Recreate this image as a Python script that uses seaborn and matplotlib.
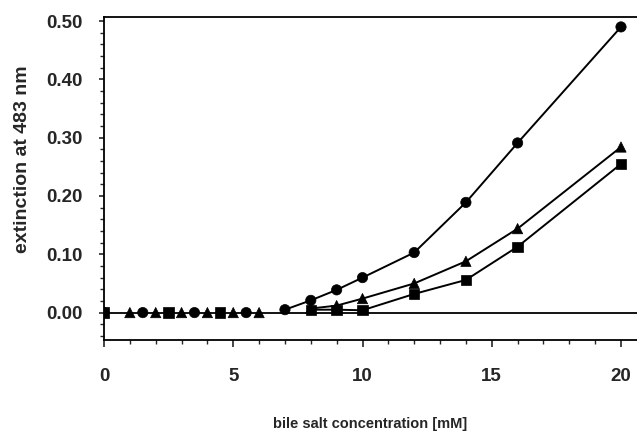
import matplotlib
matplotlib.use("Agg")
import matplotlib.pyplot as plt
import seaborn as sns
import pandas as pd
import numpy as np
from matplotlib.ticker import MultipleLocator, FormatStrFormatter

# ---- data ----
circle_x = [0, 1.5, 3.5, 5.5, 7, 8, 9, 10, 12, 14, 16, 20]
circle_y = [0, 0, 0, 0, 0.005, 0.021, 0.039, 0.060, 0.103, 0.189, 0.291, 0.490]

triangle_x = [0, 1, 2, 3, 4, 5, 6, 8, 9, 10, 12, 14, 16, 20]
triangle_y = [0, 0, 0, 0, 0, 0, 0, 0.007, 0.012, 0.024, 0.050, 0.088, 0.144, 0.284]

square_x = [0, 2.5, 4.5, 8, 9, 10, 12, 14, 16, 20]
square_y = [0, 0, 0, 0.005, 0.005, 0.004, 0.032, 0.056, 0.113, 0.255]

x_ticks = [0, 5, 10, 15, 20]
y_ticks = [0.0, 0.1, 0.2, 0.3, 0.4, 0.5]

frames = []
for name, xs, ys in [("circle", circle_x, circle_y),
                     ("triangle", triangle_x, triangle_y),
                     ("square", square_x, square_y)]:
    frames.append(pd.DataFrame({"x": xs, "y": ys, "series": name}))
df = pd.concat(frames, ignore_index=True)
rising = df[df["x"] >= 7]

sns.set_theme(style="white")
plt.rcParams["font.family"] = ["Liberation Sans", "DejaVu Sans"]
plt.rcParams["font.weight"] = "bold"

fig = plt.figure(figsize=(6.37, 4.37), dpi=100)
ax = fig.add_axes([104 / 637, 1 - 340 / 437, 1 - 104 / 637, (340 - 17) / 437])

# zero line
ax.axhline(0, color="black", lw=1.3, zorder=1)

sns.lineplot(data=rising, x="x", y="y", hue="series", units="series",
             estimator=None, palette={"circle": "black", "triangle": "black", "square": "black"},
             lw=1.4, legend=False, ax=ax, sort=True, zorder=2)

sns.scatterplot(data=df, x="x", y="y", style="series",
                markers={"circle": "o", "triangle": "^", "square": "s"},
                color="black", s=55, edgecolor="black", linewidth=0.5,
                legend=False, ax=ax, zorder=3)

x_max = 20 * (637 - 104) / (621 - 104)
ax.set_xlim(0, x_max)
ax.set_ylim(-0.047, 0.507)

ax.set_xticks(x_ticks)
ax.set_xticklabels([str(t) for t in x_ticks])
ax.xaxis.set_minor_locator(MultipleLocator(1))
ax.set_yticks(y_ticks)
ax.yaxis.set_major_formatter(FormatStrFormatter("%.2f"))
ax.yaxis.set_minor_locator(MultipleLocator(0.02))

ax.tick_params(axis="x", which="major", direction="out", length=5, width=1.2,
               pad=15, labelsize=13.5, bottom=True)
ax.tick_params(axis="x", which="minor", direction="out", length=3, width=1.0, bottom=True)
ax.tick_params(axis="y", which="major", direction="out", length=3.6, width=1.2,
               pad=11.5, labelsize=13.5, left=True)
ax.tick_params(axis="y", which="minor", direction="out", length=3, width=1.0, left=True)
for lab in ax.get_xticklabels() + ax.get_yticklabels():
    lab.set_fontweight("bold")

for s in ["left", "bottom", "top"]:
    ax.spines[s].set_visible(True)
    ax.spines[s].set_color("black")
    ax.spines[s].set_linewidth(1.3)
ax.spines["right"].set_visible(False)

ax.set_xlabel("bile salt concentration [mM]", fontsize=10.5, fontweight="bold")
ax.set_ylabel("extinction at 483 nm", fontsize=14, fontweight="bold")
ax.xaxis.set_label_coords(0.5, -0.26)
ax.xaxis.label.set_va("center")
ax.yaxis.set_label_coords(-0.152, 0.56)
ax.yaxis.label.set_va("center")

fig.savefig("out.png", dpi=100, facecolor="white")
